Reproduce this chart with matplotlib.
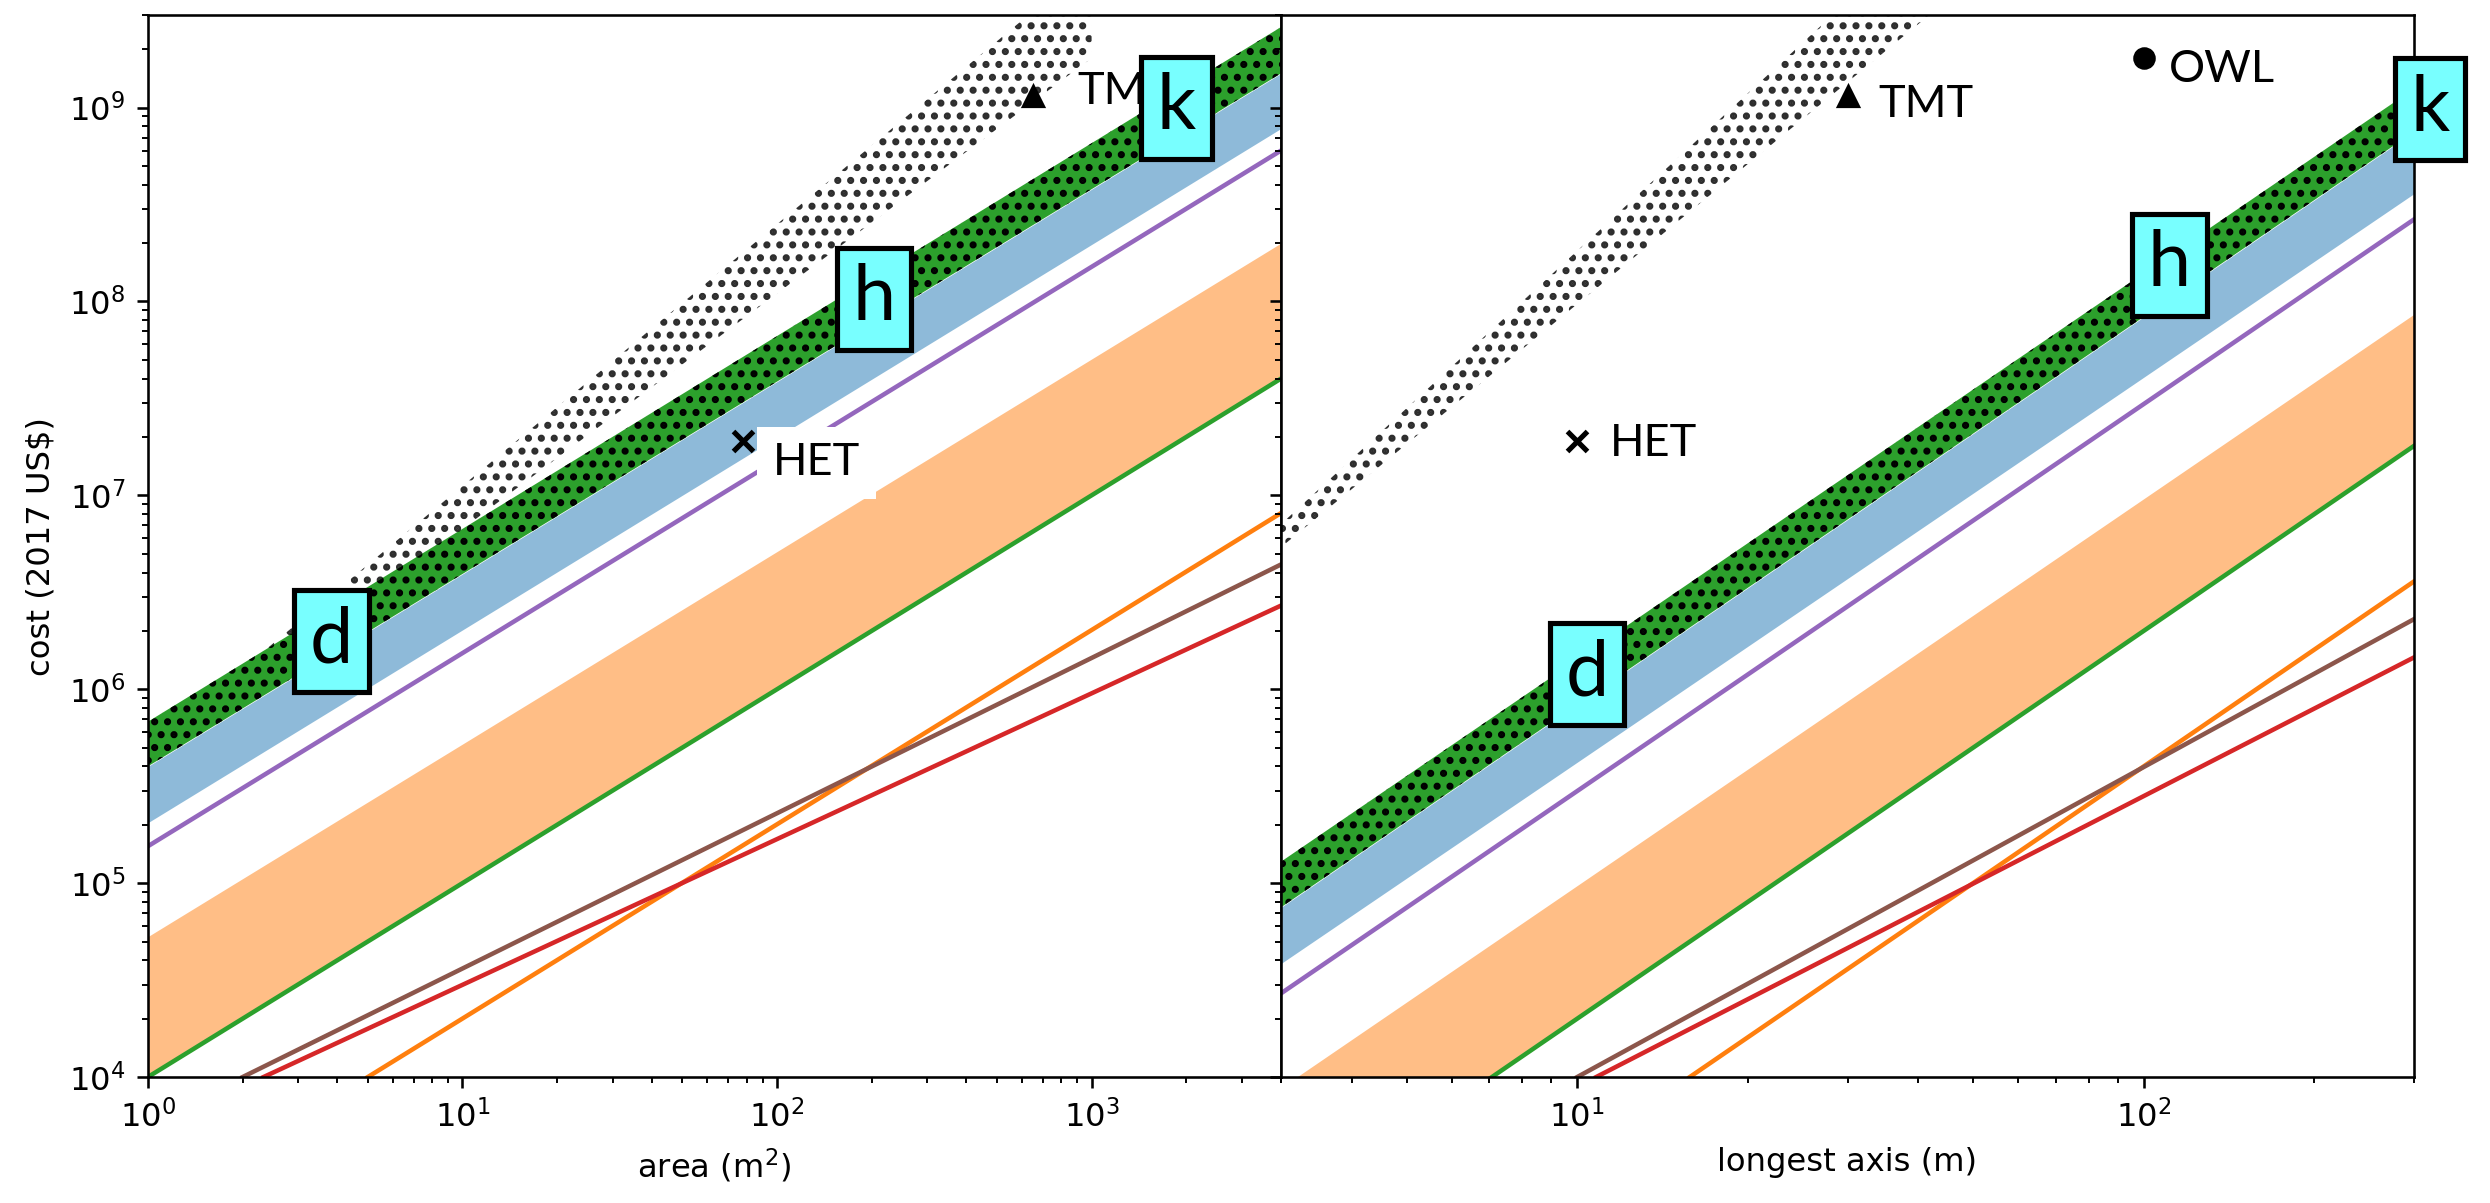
import matplotlib
matplotlib.use("Agg")
import matplotlib.pyplot as plt

plt.rcParams['hatch.linewidth'] = 1.4

# ---- left panel: cost vs area, values at x = area_lim ----
area_lim = [1, 4000]
area_green_top = [6.8e5, 2.6e9]
area_green_bot = [4.0e5, 1.5e9]
area_blue_bot = [2.05e5, 7.8e8]
area_purple = [1.55e5, 6.0e8]
area_orange_top = [5.3e4, 2.0e8]
area_green_line = [1.0e4, 4.0e7]
# dotted band, values at area_dot_x
area_dot_x = [1, 1000]
area_dot_hi = [5.0e5, 5.6e9]
area_dot_lo = [4.1e5, 1.8e9]
# lower lines: visible end points
area_brown_x, area_brown_y = [2.0, 4000], [1e4, 4.4e6]
area_red_x, area_red_y = [2.33, 4000], [1e4, 2.7e6]
area_orng_x, area_orng_y = [5.0, 4000], [1e4, 8.1e6]

# ---- right panel: cost vs longest axis, values at x = axis_lim ----
axis_lim = [3, 300]
axis_green_top = [1.29e5, 1.25e9]
axis_green_bot = [7.5e4, 7.5e8]
axis_blue_bot = [3.85e4, 3.6e8]
axis_purple = [2.7e4, 2.65e8]
axis_orange_top = [8.8e3, 8.6e7]
axis_green_line = [1.8e3, 1.8e7]
axis_dot_x = [3, 50]
axis_dot_hi = [7.1e6, 1.4e10]
axis_dot_lo = [5.4e6, 4.6e9]
axis_brown_x, axis_brown_y = [10.0, 300], [1e4, 2.3e6]
axis_red_x, axis_red_y = [10.8, 300], [1e4, 1.46e6]
axis_orng_x, axis_orng_y = [15.8, 300], [1e4, 3.6e6]

# telescopes
tmt_area, tmt_axis, tmt_cost = 650, 30, 1.15e9
het_area, het_axis, het_cost = 78, 10, 1.9e7
owl_axis, owl_cost = 100, 1.8e9

cost_lim = [1e4, 3e9]

LBL_FONT = ['Lato', 'DejaVu Sans']


def draw_panel(ax, xs, gtop, gbot, bbot, purple, otop, gline,
               dx, dhi, dlo, lines):
    ax.fill_between(dx, dlo, dhi, facecolor='none', edgecolor='#2e2e2e',
                    hatch='...', linewidth=0, zorder=1)
    ax.fill_between(xs, gbot, gtop, facecolor='tab:green', edgecolor='black',
                    hatch='...', linewidth=0, zorder=1.2)
    ax.fill_between(xs, bbot, gbot, color='tab:blue', alpha=0.5,
                    linewidth=0, zorder=1.2)
    ax.fill_between(xs, gline, otop, color='tab:orange', alpha=0.5,
                    linewidth=0, zorder=1.2)
    ax.plot(xs, purple, color='tab:purple', lw=1.4)
    ax.plot(xs, gline, color='tab:green', lw=1.4)
    for (lx, ly), c in lines:
        ax.plot(lx, ly, color=c, lw=1.4)
    ax.set_xscale('log')
    ax.set_yscale('log')
    ax.set_xlim(xs)
    ax.set_ylim(cost_lim)


def name(ax, txt, x, y, dx, dy, box=False):
    kw = {}
    if box:
        kw['bbox'] = dict(boxstyle='square,pad=0.35', facecolor='white',
                          edgecolor='none')
    ax.annotate(txt, (x, y), xytext=(dx, dy), textcoords='offset points',
                ha='left', va='baseline', fontsize=14, family=LBL_FONT,
                zorder=5, **kw)


def letter(ax, txt, x, y):
    ax.text(x, y, txt, ha='center', va='center', fontsize=24,
            family=LBL_FONT, zorder=6, clip_on=False,
            bbox=dict(boxstyle='square,pad=0.2', facecolor='#78ffff',
                      edgecolor='black', linewidth=1.6))


fig = plt.figure(figsize=(2490 / 232, 1203 / 232), dpi=232)
gs = fig.add_gridspec(1, 2, left=0.0594, right=0.9695, bottom=0.1047,
                      top=0.9875, wspace=0)
ax1 = fig.add_subplot(gs[0])
ax2 = fig.add_subplot(gs[1], sharey=ax1)

draw_panel(ax1, area_lim, area_green_top, area_green_bot, area_blue_bot,
           area_purple, area_orange_top, area_green_line,
           area_dot_x, area_dot_hi, area_dot_lo,
           [((area_orng_x, area_orng_y), 'tab:orange'),
            ((area_brown_x, area_brown_y), 'tab:brown'),
            ((area_red_x, area_red_y), 'tab:red')])
draw_panel(ax2, axis_lim, axis_green_top, axis_green_bot, axis_blue_bot,
           axis_purple, axis_orange_top, axis_green_line,
           axis_dot_x, axis_dot_hi, axis_dot_lo,
           [((axis_orng_x, axis_orng_y), 'tab:orange'),
            ((axis_brown_x, axis_brown_y), 'tab:brown'),
            ((axis_red_x, axis_red_y), 'tab:red')])

ax1.plot([tmt_area], [tmt_cost], '^', color='black', zorder=3)
ax1.plot([het_area], [het_cost], 'x', color='black', mew=1.6, zorder=3)
ax2.plot([tmt_axis], [tmt_cost], '^', color='black', zorder=3)
ax2.plot([het_axis], [het_cost], 'x', color='black', mew=1.6, zorder=3)
ax2.plot([owl_axis], [owl_cost], 'o', color='black', zorder=3)

name(ax1, 'TMT', tmt_area, tmt_cost, 13.7, -2.5)
name(ax1, 'HET', het_area, het_cost, 9.3, -10.6, box=True)
name(ax2, 'TMT', tmt_axis, tmt_cost, 9.6, -6.5)
name(ax2, 'HET', het_axis, het_cost, 10.2, -4.7)
name(ax2, 'OWL', owl_axis, owl_cost, 7.8, -7.4)

letter(ax1, 'd', 3.83, 1.77e6)
letter(ax1, 'h', 203, 1.03e8)
letter(ax1, 'k', 1862, 1.0e9)
letter(ax2, 'd', 10.4, 1.2e6)
letter(ax2, 'h', 111, 1.55e8)
letter(ax2, 'k', 320, 9.8e8)

ax1.set_xlabel('area (m$^2$)')
ax1.set_ylabel(r'cost (2017 US\$)')
ax2.set_xlabel('longest axis (m)')
ax2.tick_params(axis='y', which='both', labelleft=False)

fig.savefig('out.png', dpi=232)
